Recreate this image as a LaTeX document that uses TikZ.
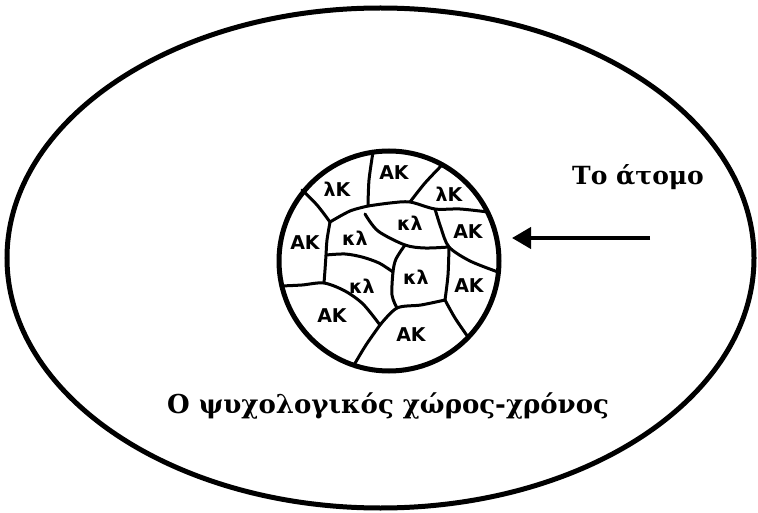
\documentclass[tikz,border=0pt]{standalone}
\usepackage{fontspec}
\setmainfont{DejaVu Serif}
\newfontfamily\cellfont{DejaVu Sans}
\usepackage{tikz}
\usetikzlibrary{arrows.meta}
\definecolor{ink}{HTML}{000000}
\tikzset{
  rim/.style={draw=ink, line width=5pt},
  wall/.style={draw=ink, line width=3pt, line cap=round, line join=round},
  cell/.style={font=\cellfont\bfseries\fontsize{19}{19}\selectfont, inner sep=0pt, text=ink},
  caption/.style={inner sep=0pt, anchor=base west, text=ink},
  arr/.style={-{Triangle[length=19pt,width=21pt]}, line width=4pt, draw=ink},
}

\begin{document}
\begin{tikzpicture}[x=1pt,y=-1pt]
  \useasboundingbox (0,0) rectangle (758,513);
  \draw[rim] (380.5,258) ellipse [x radius=373.5pt, y radius=250pt];
  \node[circle, rim, minimum size=220pt, inner sep=0pt] (atom) at (389,261) {};

  \coordinate (p1) at (302,190);  \coordinate (j1) at (330,222);
  \coordinate (p2) at (373,152);  \coordinate (j2) at (368,206);
  \coordinate (j3) at (410,202);  \coordinate (p3) at (443,164);
  \coordinate (j4) at (435,209);  \coordinate (p4) at (488,212);
  \coordinate (j5) at (449,247);  \coordinate (p5) at (498,272);
  \coordinate (a0) at (365,214);  \coordinate (j7) at (405,245);
  \coordinate (j9) at (393,272);  \coordinate (j12) at (397,308);
  \coordinate (j6) at (445,300);  \coordinate (p6) at (468,337);
  \coordinate (j11) at (380,325); \coordinate (p7) at (354,365);
  \coordinate (j8) at (324,283);  \coordinate (p8) at (281,286);
  \coordinate (j10) at (326,255);

  \draw[wall] plot[smooth] coordinates {(p1) (317,205) (j1)};
  \draw[wall] plot[smooth] coordinates {(p2) (369,180) (j2)};
  \draw[wall] plot[smooth] coordinates {(j1) (350,211) (j2)};
  \draw[wall] plot[smooth] coordinates {(j2) (390,203) (j3) (j4) (460,209) (p4)};
  \draw[wall] plot[smooth] coordinates {(j3) (425,183) (p3)};
  \draw[wall] plot[smooth] coordinates {(j4) (441,228) (j5) (470,261) (p5)};
  \draw[wall] plot[smooth] coordinates {(a0) (378,231) (j7) (425,248) (j5)};
  \draw[wall] plot[smooth] coordinates {(j7) (396,259) (j9) (392,295) (j12)};
  \draw[wall] plot[smooth] coordinates {(j1) (327,240) (j10) (325,270) (j8)};
  \draw[wall] plot[smooth] coordinates {(j10) (345,254) (362,257) (379,263) (j9)};
  \draw[wall] plot[smooth] coordinates {(p8) (302,285) (j8) (345,291) (363,304) (j11)};
  \draw[wall] plot[smooth] coordinates {(j11) (j12) (421,305) (j6)};
  \draw[wall] plot[smooth] coordinates {(j5) (448,275) (j6)};
  \draw[wall] plot[smooth] coordinates {(j6) (455,318) (p6)};
  \draw[wall] plot[smooth] coordinates {(j11) (366,345) (p7)};

  \node[cell] (c1) at (337,189) {λK};
  \node[cell] (c2) at (394,173) {AK};
  \node[cell] (c3) at (449,194) {λK};
  \node[cell] (c4) at (305,243) {AK};
  \node[cell] (c5) at (355,238) {κλ};
  \node[cell] (c6) at (410,223) {κλ};
  \node[cell] (c7) at (468,232) {AK};
  \node[cell] (c8) at (362,286) {κλ};
  \node[cell] (c9) at (416,277) {κλ};
  \node[cell] (c10) at (469,286) {AK};
  \node[cell] (c11) at (332,316) {AK};
  \node[cell] (c12) at (411,335) {AK};

  \node[caption, font=\bfseries\fontsize{25}{25}\selectfont] (self) at (572,185) {Το άτομο};
  \node[caption, font=\bfseries\fontsize{26}{26}\selectfont] (field) at (167,413) {Ο ψυχολογικός χώρος-χρόνος};

  \coordinate (tail) at (650,238);
  \coordinate (tip) at (512,238);
  \draw[arr] (tail) -- (tip);
\end{tikzpicture}
\end{document}
